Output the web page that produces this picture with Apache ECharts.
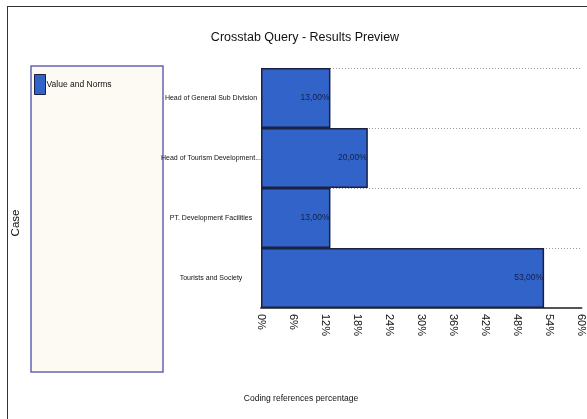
<!DOCTYPE html>
<html>
<head>
<meta charset="utf-8">
<script src="https://cdn.jsdelivr.net/npm/echarts@6/dist/echarts.min.js"></script>
<style>
  html, body { margin: 0; padding: 0; background: #fff; }
  #chart { width: 587px; height: 419px; }
</style>
</head>
<body>
<div id="chart"></div>
<script>
var categories = ['Head of General Sub Division', 'Head of Tourism Development...', 'PT. Development Facilities', 'Tourists and Society'];
var values = [13, 20, 13, 53];
var seriesName = 'Value and Norms';

var font = '"Liberation Sans", Arial, sans-serif';

(function() {
    var app = echarts.init(document.getElementById('chart'));

    var option = {
        backgroundColor: '#fff',
        animation: false,
        title: {
            text: 'Crosstab Query - Results Preview',
            left: 300,
            textAlign: 'center',
            top: 26,
            textStyle: { fontFamily: font, fontSize: 12.5, fontWeight: 'normal', color: '#111' }
        },
        legend: {
            left: 29,
            top: 69,
            orient: 'vertical',
            itemWidth: 11,
            itemHeight: 20,
            icon: 'rect',
            data: [seriesName],
            textStyle: { fontFamily: font, fontSize: 8.5, color: '#111', padding: [0, 0, 0, -4] },
            itemStyle: { borderColor: '#1a2040', borderWidth: 1 }
        },
        grid: { left: 261, right: 2, top: 68, bottom: 111 },
        xAxis: {
            type: 'value',
            min: 0,
            max: 60,
            interval: 6,
            axisLine: { show: true, lineStyle: { color: '#555', width: 2 } },
            axisTick: { show: false },
            splitLine: { show: false },
            axisLabel: {
                rotate: -90,
                formatter: '{value}%',
                margin: 6,
                fontFamily: font,
                fontSize: 11,
                color: '#111'
            }
        },
        yAxis: {
            type: 'category',
            inverse: true,
            data: categories,
            axisLine: { show: false },
            axisTick: { show: false },
            splitLine: { show: true, lineStyle: { color: '#999', type: [1, 2], width: 1 } },
            axisLabel: {
                align: 'center',
                margin: 50,
                fontFamily: font,
                fontSize: 7,
                color: '#111'
            }
        },
        series: [{
            name: seriesName,
            type: 'bar',
            data: values,
            barWidth: '100%',
            itemStyle: { color: '#3263c8', borderColor: '#1a2040', borderWidth: 1.5 },
            label: {
                show: true,
                position: 'insideRight',
                distance: 1,
                formatter: function(p) { return p.value.toFixed(2).replace('.', ',') + '%'; },
                fontFamily: font,
                fontSize: 8.5,
                color: '#12204a'
            }
        }],
        graphic: [
            // outer frame
            { type: 'line', shape: { x1: 7, y1: 6.5, x2: 587, y2: 6.5 }, style: { stroke: '#333', lineWidth: 1 }, z: -1 },
            { type: 'line', shape: { x1: 7.5, y1: 6, x2: 7.5, y2: 419 }, style: { stroke: '#333', lineWidth: 1 }, z: -1 },
            // legend box
            { type: 'rect', shape: { x: 31, y: 66, width: 132, height: 306 }, style: { fill: '#fdf9f3', stroke: '#6464b4', lineWidth: 1.5 }, z: -1 },
            {
                type: 'text',
                x: 301,
                y: 399,
                style: { text: 'Coding references percentage', fontFamily: font, fontSize: 8.5, fill: '#111', align: 'center', verticalAlign: 'middle' }
            },
            {
                type: 'text',
                x: 16,
                y: 223,
                rotation: Math.PI / 2,
                style: { text: 'Case', fontFamily: font, fontSize: 11.5, fill: '#111', align: 'center', verticalAlign: 'middle' }
            }
        ]
    };

    app.setOption(option);
})();
</script>
</body>
</html>
